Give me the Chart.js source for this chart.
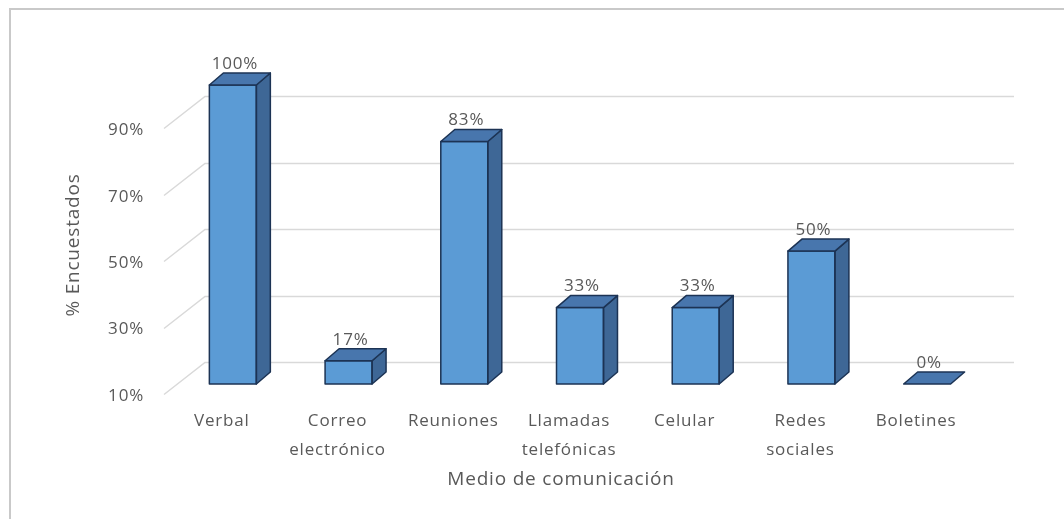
<!DOCTYPE html>
<html>
<head>
<meta charset="utf-8">
<script src="https://cdn.jsdelivr.net/npm/chart.js@4.4.0/dist/chart.umd.min.js"></script>
<style>
  html, body { margin: 0; padding: 0; background: #ffffff; }
  #wrap { position: relative; width: 1064px; height: 519px; overflow: hidden; }
  #wrap canvas { position: absolute; left: 0; top: 0; }
  #frame { position: absolute; left: 9px; top: 8px; width: 1100px; height: 600px;
           border-left: 2px solid #c9c9c9; border-top: 2px solid #c9c9c9; pointer-events: none; }
</style>
</head>
<body>
<div id="wrap">
  <canvas id="chart" width="1064" height="519"></canvas>
  <div id="frame"></div>
</div>
<script>
// Communication channels and the share of respondents using each one
const categories = [
  ['Verbal'],
  ['Correo', 'electrónico'],
  ['Reuniones'],
  ['Llamadas', 'telefónicas'],
  ['Celular'],
  ['Redes', 'sociales'],
  ['Boletines']
];
const percentages = [100, 17, 83, 33, 33, 50, 0];
const yTicks = [10, 30, 50, 70, 90];
const yMin = 10;
const yMax = 100;
const xTitle = 'Medio de comunicación';
const yTitle = '% Encuestados';

const FONT = '"Open Sans", Lato, sans-serif';
const SPACING = '0.8px';
const TEXT = '#595959';
const FRONT = '#5b9bd5';
const SIDE = '#3e6796';
const TOP = '#4876ad';
const EDGE = '#1c3354';
const DX = 14, DY = 12; // depth of the boxes

// Draws the back-wall gridlines, the side/top faces of each box,
// the value labels and the axis titles.
const boxes3d = {
  id: 'boxes3d',
  beforeDraw(chart) {
    chart.ctx.letterSpacing = SPACING;
  },
  beforeDatasetsDraw(chart) {
    const { ctx, chartArea, scales: { y } } = chart;
    ctx.save();
    ctx.strokeStyle = '#d9d9d9';
    ctx.lineWidth = 1.5;
    yTicks.forEach(v => {
      const py = Math.round(y.getPixelForValue(v)) + 0.5;
      ctx.beginPath();
      ctx.moveTo(chartArea.left - 11, py + 10);
      ctx.lineTo(chartArea.left + 30, py - 22);
      ctx.lineTo(chartArea.right + 29, py - 22);
      ctx.stroke();
    });
    ctx.restore();
  },
  afterDatasetsDraw(chart) {
    const { ctx } = chart;
    const yScale = chart.scales.y;
    const floor = yScale.getPixelForValue(yMin);
    const meta = chart.getDatasetMeta(0);
    ctx.save();
    ctx.lineJoin = 'round';
    ctx.lineWidth = 1.5;
    ctx.strokeStyle = EDGE;
    meta.data.forEach((bar, i) => {
      const { x, y, width } = bar.getProps(['x', 'y', 'width'], true);
      const top = Math.min(y, floor);
      const l = x - width / 2, r = x + width / 2;
      if (floor - top > 0.5) {
        // side face
        ctx.beginPath();
        ctx.moveTo(r, top);
        ctx.lineTo(r + DX, top - DY);
        ctx.lineTo(r + DX, floor - DY);
        ctx.lineTo(r, floor);
        ctx.closePath();
        ctx.fillStyle = SIDE;
        ctx.fill();
        ctx.stroke();
        // front outline
        ctx.strokeRect(l, top, width, floor - top);
      }
      // top face
      ctx.beginPath();
      ctx.moveTo(l, top);
      ctx.lineTo(l + DX, top - DY);
      ctx.lineTo(r + DX, top - DY);
      ctx.lineTo(r, top);
      ctx.closePath();
      ctx.fillStyle = TOP;
      ctx.fill();
      ctx.stroke();
      // value label
      ctx.fillStyle = TEXT;
      ctx.font = '17px ' + FONT;
      ctx.textAlign = 'center';
      ctx.textBaseline = 'middle';
      ctx.fillText(percentages[i] + '%', x + 2, top - DY - 9);
    });
    ctx.restore();
  },
  afterDraw(chart) {
    const { ctx } = chart;
    ctx.save();
    ctx.fillStyle = TEXT;
    ctx.font = '19px ' + FONT;
    ctx.textAlign = 'center';
    ctx.textBaseline = 'middle';
    ctx.fillText(xTitle, 561, 480);
    ctx.translate(74, 245);
    ctx.rotate(-Math.PI / 2);
    ctx.fillText(yTitle, 0, 0);
    ctx.restore();
  }
};

new Chart(document.getElementById('chart'), {
  type: 'bar',
  data: {
    labels: categories,
    datasets: [{
      data: percentages,
      base: yMin,
      backgroundColor: FRONT,
      borderColor: EDGE,
      borderWidth: 0,
      borderSkipped: false,
      categoryPercentage: 1,
      barPercentage: 0.406,
      clip: 0
    }]
  },
  options: {
    responsive: false,
    animation: false,
    layout: { padding: { top: 85, right: 79, bottom: 0, left: 0 } },
    plugins: {
      legend: { display: false },
      tooltip: { enabled: false }
    },
    scales: {
      x: {
        grid: { display: false, drawTicks: false },
        border: { display: false },
        ticks: {
          color: TEXT,
          font: { family: FONT, size: 17, lineHeight: 1.7 },
          padding: 23,
          labelOffset: -11,
          maxRotation: 0,
          autoSkip: false
        },
        afterFit(scale) { scale.height = 135; }
      },
      y: {
        min: yMin,
        max: yMax,
        grid: { display: false, drawTicks: false },
        border: { display: false },
        afterBuildTicks(scale) { scale.ticks = yTicks.map(v => ({ value: v })); },
        ticks: {
          color: TEXT,
          font: { family: FONT, size: 17 },
          padding: 31,
          labelOffset: 12,
          callback: v => v + '%'
        },
        afterFit(scale) { scale.width = 175; }
      }
    }
  },
  plugins: [boxes3d]
});
</script>
</body>
</html>
